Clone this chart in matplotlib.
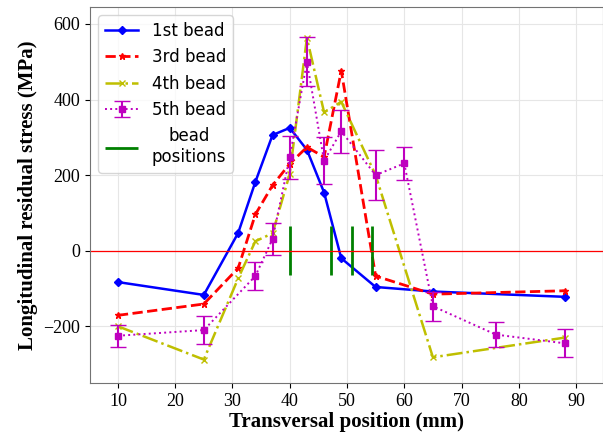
import numpy as np
import matplotlib.pyplot as plt

# transversal positions (mm) and measured stresses (MPa)
x_main = [10, 25, 31, 34, 37, 40, 43, 46, 49, 55, 65, 88]
bead1 = [-83, -117, 47, 182, 306, 325, 267, 154, -20, -96, -108, -122]
bead3 = [-171, -141, -46, 96, 173, 230, 274, 248, 476, -67, -115, -106]
bead4 = [-200, -288, -73, 25, 46, 203, 563, 366, 394, 200, -282, -230]

x_bead5 = [10, 25, 34, 37, 40, 43, 46, 49, 55, 60, 65, 76, 88]
bead5 = [-225, -210, -67, 31, 247, 500, 238, 316, 200, 231, -147, -222, -245]
bead5_err = [29, 38, 37, 42, 56, 65, 62, 57, 66, 43, 38, 34, 37]

bead_pos = [40, 47.2, 50.8, 54.4]

fig = plt.figure(figsize=(6.03, 4.33), dpi=100)
ax = fig.add_axes([0.149, 0.1155, 0.851, 0.8685])

ax.plot(x_main, bead1, color='b', marker='D', markersize=4.5, lw=1.8, label='1st bead')
ax.plot(x_main, bead3, color='r', marker='*', markersize=5, lw=2, linestyle='--', label='3rd bead')
ax.plot(x_main, bead4, color='y', marker='x', markersize=4.5, lw=1.8, linestyle='-.', label='4th bead')
ax.errorbar(x_bead5, bead5, yerr=bead5_err, color='m', marker='s', markersize=4.5,
            lw=1.4, linestyle=':', capsize=6, elinewidth=1.5, label='5th bead')
ax.vlines(bead_pos, -65, 65, color='g', lw=2, label='bead\npositions')
ax.axhline(0, color='r', lw=0.9)

ax.set_xlim(5.1, 94.7)
ax.set_ylim(-350, 645)
ax.set_xticks(range(10, 100, 10))
ax.set_yticks([-200, 0, 200, 400, 600])
ax.grid(True, color='0.9', lw=0.8)
ax.set_axisbelow(True)
for s in ax.spines.values():
    s.set_edgecolor('0.45')

for lbl in ax.get_xticklabels() + ax.get_yticklabels():
    lbl.set_family('Liberation Serif')
    lbl.set_fontsize(13)
ax.set_xlabel('Transversal position (mm)', family='Liberation Serif', weight='bold', fontsize=15, labelpad=2)
ax.set_ylabel('Longitudinal residual stress (MPa)', family='Liberation Serif', weight='bold', fontsize=15, labelpad=4)

# keep legend order: beads first, then bead positions
handles, labels = ax.get_legend_handles_labels()
order = [labels.index(l) for l in ['1st bead', '3rd bead', '4th bead', '5th bead', 'bead\npositions']]
leg = ax.legend([handles[i] for i in order], [labels[i] for i in order], loc='upper left', fontsize=12)
leg.get_texts()[4].set_multialignment('center')

fig.savefig('out.png', dpi=100)
